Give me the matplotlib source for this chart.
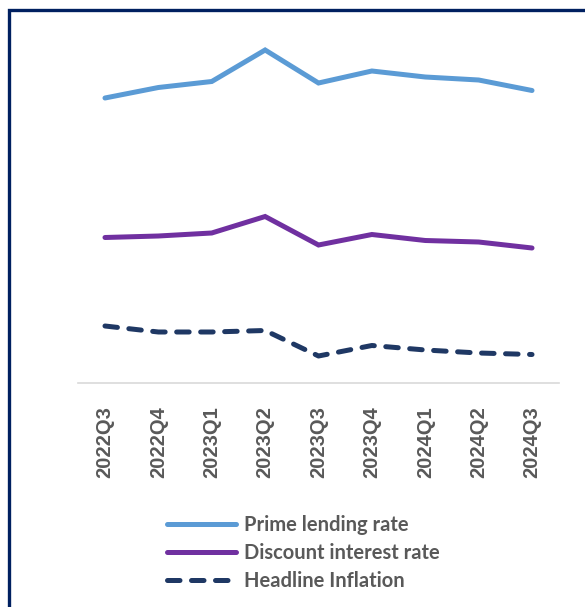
import matplotlib
matplotlib.use("Agg")
import matplotlib.pyplot as plt
from matplotlib.patches import Rectangle

# quarterly series, percent
quarters = ["2022Q3", "2022Q4", "2023Q1", "2023Q2", "2023Q3",
            "2023Q4", "2024Q1", "2024Q2", "2024Q3"]
prime_lending = [19.0, 19.7, 20.1, 22.2, 20.0, 20.8, 20.4, 20.2, 19.5]
discount_rate = [9.7, 9.8, 10.0, 11.1, 9.2, 9.9, 9.5, 9.4, 9.0]
headline_inflation = [3.8, 3.4, 3.4, 3.5, 1.8, 2.5, 2.2, 2.0, 1.9]

W, H = 585, 607
fig = plt.figure(figsize=(W / 100, H / 100), dpi=100)

# navy frame around the chart (runs off the right and bottom edges)
fig.patches.append(Rectangle((8.5 / W, -0.05), 1.2, 1 + 0.05 - 9.5 / H,
                             transform=fig.transFigure, fill=False,
                             edgecolor="#002060", linewidth=2.4))

ax = fig.add_axes([78.3 / W, 224 / H, 480.4 / W, 360 / H])
x = range(len(quarters))

ax.plot(x, prime_lending, color="#5B9BD5", lw=3.6, solid_capstyle="round",
        solid_joinstyle="miter", label="Prime lending rate")
ax.plot(x, discount_rate, color="#7030A0", lw=3.6, solid_capstyle="round",
        solid_joinstyle="miter", label="Discount interest rate")
infl, = ax.plot(x, headline_inflation, color="#1F3864", lw=3.6,
                dash_capstyle="round", label="Headline Inflation")
infl.set_dashes((2.5, 2.3))

ax.set_xlim(-0.5, len(quarters) - 0.5)
ax.set_ylim(0, 24)
ax.set_yticks([])
ax.set_xticks(list(x))
ax.set_xticklabels(quarters, rotation=90, fontfamily="Liberation Sans",
                   fontweight="bold", fontsize=14.5, color="#595959")
ax.tick_params(axis="x", length=0, pad=17)
for side in ["left", "right", "top"]:
    ax.spines[side].set_visible(False)
ax.spines["bottom"].set_color("#D9D9D9")
ax.spines["bottom"].set_linewidth(1.2)
ax.patch.set_alpha(0)

leg = fig.legend(loc="upper left", bbox_to_anchor=(167 / W, 1 - 515 / H),
                 frameon=False, handlelength=3.45, handletextpad=0.38,
                 labelspacing=0.4, borderpad=0, borderaxespad=0,
                 prop={"family": "Lato", "weight": "bold", "size": 14.5})
for t in leg.get_texts():
    t.set_color("#595959")

fig.savefig("out.png", dpi=100)
